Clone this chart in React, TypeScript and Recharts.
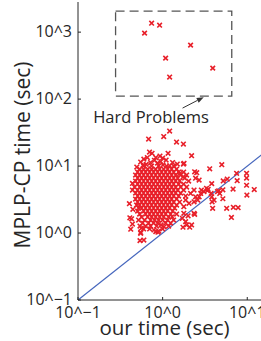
import { ScatterChart, Scatter, XAxis, YAxis, ReferenceArea, ReferenceLine, ReferenceDot } from "recharts";

// hard problems inside the dashed box: [our time, MPLP-CP time] in seconds
const hardRuns: [number, number][] = [
  [0.741, 1360], [0.921, 1270], [0.612, 966], [2.14, 640], [1.085, 409], [3.91, 290], [1.21, 213],
];

// dense core of the cloud, one row per MPLP-CP time: [MPLP-CP time, our times]
const coreRows: [number, number[]][] = [
  [10.0, [0.596, 0.741, 0.897, 1.115, 1.35]],
  [9.02, [0.535, 0.596, 0.665, 0.741, 0.826, 0.921, 1.028, 1.146, 1.278, 1.464]],
  [8.13, [0.506, 0.564, 0.629, 0.702, 0.782, 0.873, 0.973, 1.085, 1.21, 1.35, 1.546, 1.772]],
  [7.34, [0.479, 0.535, 0.596, 0.665, 0.741, 0.826, 0.921, 1.028, 1.146, 1.278, 1.425, 1.633, 1.922]],
  [6.62, [0.506, 0.564, 0.629, 0.702, 0.782, 0.873, 0.973, 1.085, 1.21, 1.35, 1.505, 1.821]],
  [5.97, [0.479, 0.535, 0.596, 0.665, 0.741, 0.826, 0.921, 1.028, 1.146, 1.278, 1.425, 1.589, 2.03]],
  [5.39, [0.506, 0.564, 0.629, 0.702, 0.782, 0.873, 0.973, 1.085, 1.21, 1.35, 1.546, 1.772]],
  [4.86, [0.466, 0.535, 0.596, 0.665, 0.741, 0.826, 0.921, 1.028, 1.146, 1.278, 1.425, 1.633, 1.922]],
  [4.38, [0.506, 0.564, 0.629, 0.702, 0.782, 0.873, 0.973, 1.085, 1.21, 1.35, 1.505, 1.772]],
  [3.95, [0.479, 0.535, 0.596, 0.665, 0.741, 0.826, 0.921, 1.028, 1.146, 1.278, 1.425, 1.633]],
  [3.57, [0.506, 0.564, 0.629, 0.702, 0.782, 0.873, 0.973, 1.085, 1.21, 1.35, 1.546, 1.871]],
  [3.22, [0.479, 0.535, 0.596, 0.665, 0.741, 0.826, 0.921, 1.028, 1.146, 1.278, 1.464]],
  [2.9, [0.506, 0.564, 0.629, 0.702, 0.782, 0.873, 0.973, 1.085, 1.21, 1.35, 1.589]],
  [2.62, [0.492, 0.535, 0.596, 0.665, 0.741, 0.826, 0.921, 1.028, 1.146, 1.278, 1.464]],
  [2.36, [0.52, 0.564, 0.629, 0.702, 0.782, 0.873, 0.973, 1.085, 1.21, 1.387]],
  [2.13, [0.506, 0.596, 0.665, 0.741, 0.826, 0.921, 1.028, 1.146, 1.313]],
  [1.92, [0.535, 0.629, 0.702, 0.782, 0.873, 0.973, 1.085, 1.244, 1.464]],
  [1.73, [0.564, 0.665, 0.741, 0.826, 0.921, 1.028, 1.178]],
  [1.56, [0.52, 0.612, 0.721, 0.804, 0.897, 1.0, 1.146, 1.35]],
  [1.41, [0.58, 0.683, 0.782, 0.873, 1.085, 1.244]],
  [1.27, [0.629, 0.721, 0.849, 1.178]],
  [1.15, [0.596, 0.702, 1.0]],
];

// sparser points around the core: [our time, MPLP-CP time]
const spreadRuns: [number, number][] = [
  [1.21, 33.3], [1.03, 27.6], [0.683, 25.3], [1.46, 22.8], [1.76, 21.3],
  [0.7, 16.2], [0.75, 15.5], [1.16, 15.5], [0.93, 14.1], [1.0, 13.2],
  [0.6, 12.7], [0.66, 13.4], [0.83, 13.4], [0.495, 9.66], [0.59, 10.4],
  [1.21, 10.1], [1.59, 7.7], [1.75, 6.9], [2.2, 14.3], [1.79, 11.0],
  [3.6, 9.1], [5.0, 10.5], [2.39, 8.2], [2.53, 7.95], [7.48, 7.8],
  [9.82, 7.8], [5.8, 6.4], [3.8, 5.47], [9.82, 6.62], [9.82, 5.17],
  [12.1, 4.46], [6.8, 4.54], [9.9, 3.69], [4.6, 4.28], [5.15, 4.42],
  [2.87, 4.38], [3.38, 4.28], [4.05, 3.11], [3.84, 2.93], [5.15, 3.25],
  [3.9, 2.34], [5.71, 2.34], [6.85, 2.42], [7.8, 2.39], [6.5, 1.71],
  [2.39, 1.9], [1.74, 1.22], [1.92, 1.32], [2.09, 1.22], [0.405, 2.74],
  [0.445, 2.26], [0.41, 1.69], [0.43, 1.63], [0.44, 1.36], [0.88, 1.03],
  [1.04, 1.24], [0.79, 1.11], [0.55, 1.02], [0.56, 1.18], [1.76, 10.7],
  [5.2, 6.0], [7.6, 6.05], [4.45, 4.16], [4.73, 3.9], [3.45, 4.5],
  [3.74, 3.9], [3.81, 3.48], [2.35, 1.97], [2.0, 1.81], [1.87, 1.48],
  [2.2, 1.32], [2.45, 6.6], [2.7, 6.18], [3.08, 4.14], [3.3, 4.65],
  [2.82, 3.9], [2.7, 3.48], [2.45, 3.48], [2.6, 3.11], [2.35, 2.93],
  [2.35, 4.38], [2.14, 3.9], [1.87, 3.11], [2.05, 2.78], [1.78, 2.47],
  [1.78, 1.97], [1.71, 1.66], [0.44, 5.5], [0.44, 4.38], [0.55, 0.99],
  [0.6, 0.786], [0.54, 0.77], [0.83, 1.05], [0.9, 1.07], [0.96, 1.32],
  [1.3, 1.75], [0.54, 1.27], [0.42, 1.14], [0.64, 10.6], [0.72, 11.3],
  [0.87, 11.1], [1.01, 10.4], [1.1, 12.3], [1.31, 11.3], [1.49, 10.7],
  [0.55, 11.5], [0.8, 12.2], [0.95, 11.7],
];

const xTicks = [0.1, 1, 10];
const xTickLabels = ["10^\u22121", "10^0", "10^1"];
const yTicks = [0.1, 1, 10, 100, 1000];
const yTickLabels = ["10^\u22121", "10^0", "10^1", "10^2", "10^3"];
const xDomain = [0.1, 32];
const yDomain = [0.1, 2818];

// annotation anchors, in data units
const hardBoxOur = [0.278, 6.56];
const hardBoxMplp = [111, 2058];
const hardLabelAt = [0.73, 53.9];
const arrowFrom = [1.72, 73.4];
const arrowTo = [3.06, 107];

const RED = "#e8202a";
const BLUE = "#4566bd";
const AXIS = "#262626";
const TEXT = "#262626";
const FONT = "'Open Sans', sans-serif";
const PLOT_LEFT = 78;
const PLOT_BOTTOM = 300;

const points = (runs: [number, number][]) => runs.map(([our, mplp]) => ({ our, mplp }));
const coreRuns = coreRows.flatMap(([mplp, ours]) => ours.map((our) => ({ our, mplp })));

function XMark(props: any) {
  const { cx, cy } = props;
  const r = 2.3;
  return (
    <path
      d={`M${cx - r},${cy - r}L${cx + r},${cy + r}M${cx - r},${cy + r}L${cx + r},${cy - r}`}
      stroke={RED}
      strokeWidth={1.6}
      fill="none"
    />
  );
}

function XTick(props: any) {
  const { x, payload } = props;
  return (
    <g>
      <line x1={x} y1={PLOT_BOTTOM} x2={x} y2={PLOT_BOTTOM - 3} stroke={AXIS} />
      <text x={x} y={318} textAnchor="middle" fontSize={16} fontFamily={FONT} fill={TEXT}>
        {xTickLabels[xTicks.indexOf(payload.value)]}
      </text>
    </g>
  );
}

function YTick(props: any) {
  const { y, payload } = props;
  return (
    <g>
      <line x1={PLOT_LEFT} y1={y} x2={PLOT_LEFT + 3} y2={y} stroke={AXIS} />
      <text x={72} y={y + 5} textAnchor="end" fontSize={16} fontFamily={FONT} fill={TEXT}>
        {yTickLabels[yTicks.indexOf(payload.value)]}
      </text>
    </g>
  );
}

function Arrow(props: any) {
  const { x1, y1, x2, y2 } = props;
  const ang = Math.atan2(y2 - y1, x2 - x1);
  const len = 7;
  const half = 2.6;
  const bx = x2 - len * Math.cos(ang);
  const by = y2 - len * Math.sin(ang);
  const px = -Math.sin(ang) * half;
  const py = Math.cos(ang) * half;
  return (
    <g>
      <line x1={x1} y1={y1} x2={bx} y2={by} stroke="#333" strokeWidth={1} />
      <path d={`M${x2},${y2}L${bx + px},${by + py}L${bx - px},${by - py}Z`} fill="#333" />
    </g>
  );
}

export default function App() {
  return (
    <div style={{ position: "fixed", left: 0, top: 0, width: 261, height: 341, overflow: "hidden", background: "#fff" }}>
      <ScatterChart width={290} height={341} margin={{ top: 2, right: 0, bottom: 0, left: 8 }}>
        <XAxis
          dataKey="our"
          type="number"
          scale="log"
          domain={xDomain}
          allowDataOverflow
          ticks={xTicks}
          interval={0}
          height={41}
          tickLine={false}
          axisLine={{ stroke: AXIS }}
          tick={(p: any) => <XTick {...p} />}
          label={{
            content: () => (
              <text x={164.5} y={335} textAnchor="middle" fontSize={20.5} fontFamily={FONT} fill={TEXT}>
                our time (sec)
              </text>
            ),
          }}
        />
        <YAxis
          dataKey="mplp"
          type="number"
          scale="log"
          domain={yDomain}
          allowDataOverflow
          ticks={yTicks}
          interval={0}
          width={70}
          tickLine={false}
          axisLine={{ stroke: AXIS }}
          tick={(p: any) => <YTick {...p} />}
          label={{
            content: () => (
              <text
                x={29.5}
                y={155}
                transform="rotate(-90, 29.5, 155)"
                textAnchor="middle"
                fontSize={21}
                fontFamily={FONT}
                fill={TEXT}
              >
                MPLP-CP time (sec)
              </text>
            ),
          }}
        />
        <ReferenceArea
          x1={hardBoxOur[0]}
          x2={hardBoxOur[1]}
          y1={hardBoxMplp[0]}
          y2={hardBoxMplp[1]}
          fill="none"
          fillOpacity={0}
          stroke="#555"
          strokeWidth={1.3}
          strokeDasharray="9 5"
        />
        <Scatter data={coreRuns} shape={<XMark />} isAnimationActive={false} />
        <Scatter data={points(spreadRuns)} shape={<XMark />} isAnimationActive={false} />
        <Scatter data={points(hardRuns)} shape={<XMark />} isAnimationActive={false} />
        <ReferenceLine
          segment={[
            { x: xDomain[0], y: yDomain[0] },
            { x: xDomain[1], y: xDomain[1] },
          ]}
          stroke={BLUE}
          strokeWidth={1.2}
        />
        <ReferenceLine
          segment={[
            { x: arrowFrom[0], y: arrowFrom[1] },
            { x: arrowTo[0], y: arrowTo[1] },
          ]}
          shape={(p: any) => <Arrow {...p} />}
        />
        <ReferenceDot
          x={hardLabelAt[0]}
          y={hardLabelAt[1]}
          r={0}
          fill="none"
          stroke="none"
          label={{ value: "Hard Problems", position: "center", fontSize: 16.5, fontFamily: FONT, fill: TEXT }}
        />
      </ScatterChart>
    </div>
  );
}
